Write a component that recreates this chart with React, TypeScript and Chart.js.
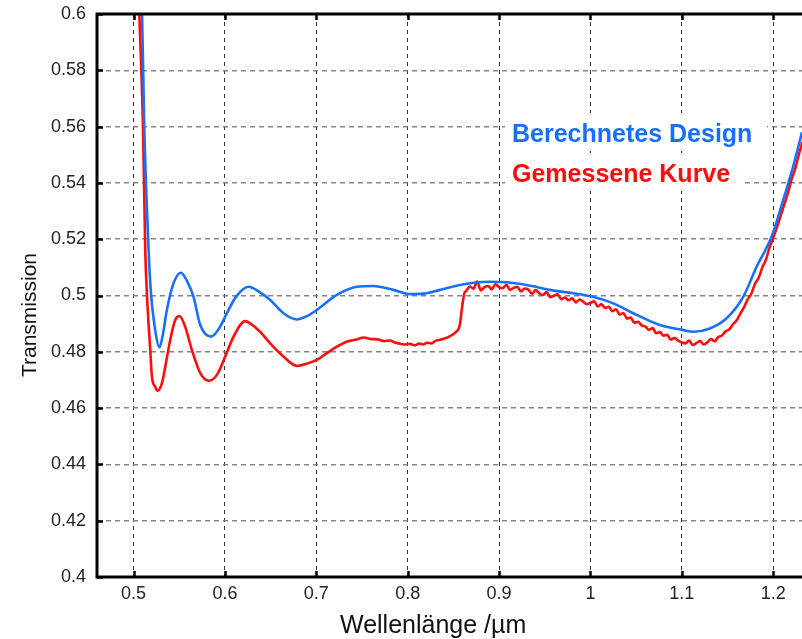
import { useEffect, useRef } from "react";
import { Chart, registerables } from "chart.js";

Chart.register(...registerables);

// Axis tick values
const xTickValues = [0.5, 0.6, 0.7, 0.8, 0.9, 1.0, 1.1, 1.2];
const yTickValues = [0.4, 0.42, 0.44, 0.46, 0.48, 0.5, 0.52, 0.54, 0.56, 0.58, 0.6];

const xRange = [0.46, 1.2315];
const yRange = [0.4, 0.6];

const seriesNames = ["Berechnetes Design", "Gemessene Kurve"];
const seriesColors = ["rgb(24,112,250)", "rgb(255,12,12)"];

const xTitle = "Wellenlänge /µm";
const yTitle = "Transmission";

// Calculated design (smooth)
const designWavelength = [
  0.506, 0.5093, 0.5117, 0.5150, 0.5183, 0.5237, 0.5284, 0.5320, 0.5365, 0.5437,
  0.5518, 0.5580, 0.5656, 0.5730, 0.5850, 0.5930, 0.6022, 0.6120, 0.6258, 0.6380,
  0.6495, 0.6641, 0.6787, 0.6900, 0.7006, 0.7225, 0.7443, 0.7625, 0.7844, 0.8026,
  0.8209, 0.8355, 0.8464, 0.8719, 0.8901, 0.9084, 0.9303, 0.9557, 0.9812, 0.9995,
  1.0250, 1.0468, 1.0761, 1.1016, 1.1125, 1.1307, 1.1490, 1.1673, 1.1818, 1.1982,
  1.2109, 1.2218, 1.2315,
];
const designTransmission = [
  0.615, 0.600, 0.560, 0.528, 0.5043, 0.4877, 0.4816, 0.4860, 0.4949, 0.5043,
  0.5081, 0.5055, 0.4996, 0.4895, 0.4854, 0.4880, 0.4937, 0.4995, 0.5031, 0.5012,
  0.4984, 0.4937, 0.4915, 0.4927, 0.4949, 0.5002, 0.5031, 0.5034, 0.5020, 0.5005,
  0.5008, 0.5020, 0.5029, 0.5045, 0.5049, 0.5047, 0.5037, 0.5020, 0.5008, 0.4998,
  0.4972, 0.4937, 0.4895, 0.4877, 0.4871, 0.4883, 0.4919, 0.4996, 0.5102, 0.5209,
  0.5339, 0.5458, 0.5580,
];

// Measured curve (noisy)
const measuredWavelength = [
  0.5045, 0.5063, 0.5103, 0.5128, 0.5147, 0.5183, 0.5201, 0.5237, 0.5262, 0.5310,
  0.5347, 0.5401, 0.5456, 0.5503, 0.5565, 0.5639, 0.5730, 0.5825, 0.5912, 0.6003,
  0.6094, 0.6222, 0.6276, 0.6386, 0.6495, 0.6641, 0.6787, 0.6900, 0.7006, 0.7115,
  0.7225, 0.7330, 0.7443, 0.7520, 0.7589, 0.7680, 0.7740, 0.7808, 0.7860, 0.7900,
  0.7960, 0.8026, 0.8080, 0.8120, 0.8170, 0.8209, 0.8260, 0.8300, 0.8355, 0.8410,
  0.8464, 0.8520, 0.8570, 0.8595, 0.8620,
  0.864, 0.868, 0.872, 0.876, 0.880, 0.884, 0.888, 0.892, 0.896, 0.900,
  0.904, 0.908, 0.912, 0.916, 0.920, 0.924, 0.928, 0.932, 0.936, 0.940,
  0.944, 0.948, 0.952, 0.956, 0.960, 0.964, 0.968, 0.972, 0.976, 0.980,
  0.984, 0.988, 0.992, 0.996, 1.000, 1.004, 1.008, 1.012, 1.016, 1.020,
  1.024, 1.028, 1.032, 1.036, 1.040, 1.044, 1.048, 1.052, 1.056, 1.060,
  1.064, 1.068, 1.072, 1.076, 1.080, 1.084, 1.088, 1.092, 1.096, 1.100,
  1.104, 1.108, 1.112, 1.116, 1.120, 1.124, 1.128, 1.132, 1.136, 1.140,
  1.144, 1.148, 1.152, 1.156, 1.160, 1.164, 1.168, 1.172, 1.176, 1.180,
  1.184, 1.188, 1.192, 1.196, 1.200, 1.204, 1.208, 1.212, 1.216, 1.220,
  1.224, 1.228, 1.232,
];
const measuredTransmission = [
  0.615, 0.600, 0.560, 0.516, 0.500, 0.4806, 0.4712, 0.4676, 0.4662, 0.4688,
  0.4747, 0.4842, 0.4913, 0.4927, 0.4889, 0.4806, 0.4724, 0.4697, 0.4718, 0.4783,
  0.4854, 0.4909, 0.4901, 0.4871, 0.4830, 0.4783, 0.4750, 0.4758, 0.4771, 0.4795,
  0.4818, 0.4836, 0.4844, 0.4851, 0.4846, 0.4844, 0.4838, 0.4840, 0.4833, 0.4830,
  0.4826, 0.4828, 0.4823, 0.4829, 0.4826, 0.4832, 0.4830, 0.4838, 0.4843, 0.4848,
  0.4856, 0.4868, 0.4895, 0.4958, 0.5008,
  0.5016, 0.5032, 0.5024, 0.5050, 0.5018, 0.5030, 0.5034, 0.5022, 0.5040, 0.5030,
  0.5026, 0.5038, 0.5020, 0.5027, 0.5031, 0.5014, 0.5025, 0.5021, 0.5006, 0.5019,
  0.5008, 0.5002, 0.5012, 0.4994, 0.4999, 0.5004, 0.4987, 0.4993, 0.4983, 0.4990,
  0.4975, 0.4986, 0.4978, 0.4969, 0.4974, 0.4979, 0.4961, 0.4969, 0.4956, 0.4960,
  0.4944, 0.4951, 0.4932, 0.4938, 0.4918, 0.4922, 0.4903, 0.4907, 0.4894, 0.4890,
  0.4878, 0.4884, 0.4866, 0.4870, 0.4857, 0.4860, 0.4843, 0.4849, 0.4840, 0.4833,
  0.4830, 0.4840, 0.4824, 0.4831, 0.4838, 0.4826, 0.4834, 0.4845, 0.4837, 0.4853,
  0.4858, 0.4873, 0.4880, 0.4898, 0.4912, 0.4936, 0.4958, 0.4986, 0.5006, 0.5041,
  0.5062, 0.5099, 0.5127, 0.5171, 0.5204, 0.5241, 0.5281, 0.5322, 0.5363, 0.5412,
  0.5449, 0.5500, 0.5545,
];

const FONT = "'Liberation Sans', Arial, Helvetica, sans-serif";

const fmt = (v: number) => String(Math.round(v * 100) / 100);

// Thick black frame (left, bottom, top) with inward tick marks, axis titles and in-plot labels
const framePlugin = {
  id: "frameAndLabels",
  beforeDatasetsDraw(chart: any) {
    const { ctx } = chart;
    ctx.save();
    const boxes = [
      { x: 505, y: 113, w: 262, h: 38 },
      { x: 505, y: 153, w: 238, h: 38 },
    ];
    ctx.fillStyle = "#ffffff";
    boxes.forEach((b) => ctx.fillRect(b.x, b.y, b.w, b.h));
    ctx.font = `bold 25px ${FONT}`;
    ctx.textAlign = "left";
    ctx.textBaseline = "alphabetic";
    ctx.fillStyle = seriesColors[0];
    ctx.fillText(seriesNames[0], 512, 142);
    ctx.fillStyle = seriesColors[1];
    ctx.fillText(seriesNames[1], 512, 182);
    ctx.restore();
  },
  afterDatasetsDraw(chart: any) {
    const { ctx, chartArea } = chart;
    const { left, right, top, bottom } = chartArea;
    const xs = chart.scales.x;
    const ys = chart.scales.y;
    ctx.save();
    ctx.strokeStyle = "#000";
    ctx.lineWidth = 3;
    ctx.lineCap = "butt";
    ctx.beginPath();
    ctx.moveTo(left, top - 1.5);
    ctx.lineTo(left, bottom + 1.5);
    ctx.moveTo(left - 1.5, bottom);
    ctx.lineTo(right, bottom);
    ctx.moveTo(left - 1.5, top);
    ctx.lineTo(right, top);
    ctx.stroke();
    ctx.lineWidth = 2.5;
    ctx.beginPath();
    xTickValues.forEach((v) => {
      const px = Math.round(xs.getPixelForValue(v)) + 0.5;
      ctx.moveTo(px, bottom);
      ctx.lineTo(px, bottom - 6);
      ctx.moveTo(px, top);
      ctx.lineTo(px, top + 6);
    });
    yTickValues.forEach((v) => {
      const py = Math.round(ys.getPixelForValue(v)) + 0.5;
      ctx.moveTo(left, py);
      ctx.lineTo(left + 6, py);
    });
    ctx.stroke();

    // axis titles
    ctx.fillStyle = "#111";
    ctx.textBaseline = "alphabetic";
    ctx.textAlign = "left";
    ctx.font = `25px ${FONT}`;
    ctx.fillText(xTitle, 340, 633);
    ctx.save();
    ctx.translate(36, 315);
    ctx.rotate(-Math.PI / 2);
    ctx.textAlign = "center";
    ctx.font = `21px ${FONT}`;
    ctx.fillText(yTitle, 0, 0);
    ctx.restore();
    ctx.restore();
  },
};

export default function App() {
  const canvasRef = useRef<HTMLCanvasElement | null>(null);

  useEffect(() => {
    document.body.style.margin = "0";
    const canvas = canvasRef.current;
    if (!canvas) return;

    const chart = new Chart(canvas, {
      type: "line",
      data: {
        datasets: [
          {
            label: seriesNames[0],
            data: designWavelength.map((x, i) => ({ x, y: designTransmission[i] })),
            borderColor: seriesColors[0],
            borderWidth: 2.6,
            pointRadius: 0,
            cubicInterpolationMode: "monotone",
            fill: false,
          },
          {
            label: seriesNames[1],
            data: measuredWavelength.map((x, i) => ({ x, y: measuredTransmission[i] })),
            borderColor: seriesColors[1],
            borderWidth: 2.6,
            pointRadius: 0,
            cubicInterpolationMode: "monotone",
            fill: false,
          },
        ],
      },
      options: {
        responsive: false,
        animation: false,
        devicePixelRatio: 1,
        layout: { padding: { left: 0, right: 0, top: 14, bottom: 0 } },
        plugins: {
          legend: { display: false },
          tooltip: { enabled: false },
        },
        scales: {
          x: {
            type: "linear",
            min: xRange[0],
            max: xRange[1],
            afterBuildTicks: (scale: any) => {
              scale.ticks = xTickValues.map((value) => ({ value }));
            },
            afterFit: (scale: any) => {
              scale.height = 62;
              scale.paddingLeft = 0;
              scale.paddingRight = 0;
            },
            ticks: {
              color: "#222",
              font: { family: FONT, size: 18 },
              padding: 6,
              maxRotation: 0,
              autoSkip: false,
              callback: (v: any) => fmt(Number(v)),
            },
            grid: {
              color: "rgba(30,30,30,0.9)",
              lineWidth: 1,
              drawTicks: false,
            },
            border: { display: false, dash: [4, 4] },
            title: { display: false },
          },
          y: {
            type: "linear",
            min: yRange[0],
            max: yRange[1],
            afterBuildTicks: (scale: any) => {
              scale.ticks = yTickValues.map((value) => ({ value }));
            },
            afterFit: (scale: any) => {
              scale.width = 97;
              scale.paddingTop = 0;
              scale.paddingBottom = 0;
            },
            ticks: {
              color: "#222",
              font: { family: FONT, size: 18 },
              padding: 11,
              autoSkip: false,
              callback: (v: any) => fmt(Number(v)),
            },
            grid: {
              color: "rgba(120,120,120,0.9)",
              lineWidth: 1.5,
              drawTicks: false,
            },
            border: { display: false, dash: [5, 4] },
            title: { display: false },
          },
        },
      },
      plugins: [framePlugin],
    });

    return () => chart.destroy();
  }, []);

  return <canvas ref={canvasRef} width={802} height={639} style={{ display: "block" }} />;
}
